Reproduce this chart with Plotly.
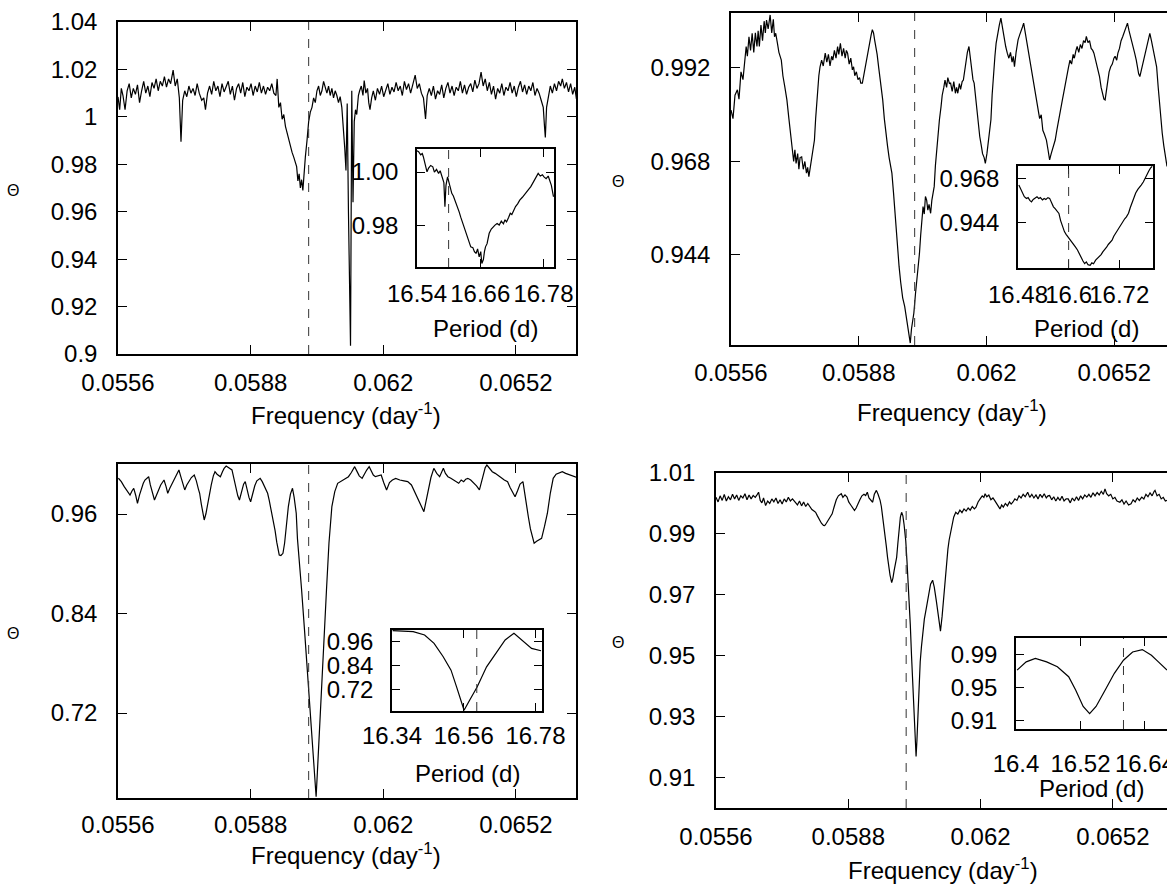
import plotly.graph_objects as go

W, H = 1167, 884
FONT = "Liberation Sans, Arial, Helvetica, sans-serif"

# ---------------- data ----------------
dash_freq = 0.0602
dash_period = 16.60

p1_freq = [0.05560,0.05564,0.05568,0.05572,0.05577,0.05582,0.05587,0.05592,0.05597,0.05602,0.05607,0.05612,0.05617,0.05622,0.05627,0.05632,0.05637,0.05642,0.05647,0.05652,0.05657,0.05662,0.05667,0.05672,0.05677,0.05682,0.05687,0.05693,0.05698,0.05703,0.05708,0.05712,0.05716,0.05721,0.05726,0.05731,0.05736,0.05741,0.05746,0.05751,0.05756,0.05762,0.05767,0.05771,0.05776,0.05781,0.05786,0.05791,0.05796,0.05801,0.05806,0.05811,0.05816,0.05821,0.05826,0.05831,0.05836,0.05841,0.05846,0.05851,0.05856,0.05861,0.05866,0.05871,0.05876,0.05881,0.05886,0.05891,0.05896,0.05901,0.05906,0.05911,0.05916,0.05921,0.05926,0.05931,0.05936,0.05941,0.05944,0.05948,0.05952,0.05956,0.05960,0.05964,0.05968,0.05972,0.05976,0.05980,0.05984,0.05988,0.05991,0.05994,0.05997,0.06000,0.06003,0.06006,0.06009,0.06012,0.06016,0.06020,0.06024,0.06028,0.06032,0.06036,0.06040,0.06044,0.06048,0.06052,0.06056,0.06060,0.06064,0.06068,0.06072,0.06076,0.06080,0.06084,0.06088,0.06092,0.06096,0.06100,0.06104,0.06107,0.06110,0.06113,0.06116,0.06118,0.06121,0.06124,0.06127,0.06130,0.06133,0.06136,0.06140,0.06143,0.06147,0.06151,0.06154,0.06158,0.06162,0.06165,0.06168,0.06172,0.06176,0.06181,0.06186,0.06191,0.06196,0.06201,0.06206,0.06211,0.06216,0.06221,0.06226,0.06231,0.06236,0.06241,0.06246,0.06251,0.06256,0.06261,0.06266,0.06271,0.06277,0.06282,0.06287,0.06292,0.06297,0.06302,0.06306,0.06311,0.06316,0.06321,0.06326,0.06331,0.06336,0.06341,0.06346,0.06351,0.06356,0.06361,0.06366,0.06371,0.06376,0.06381,0.06386,0.06391,0.06396,0.06401,0.06406,0.06411,0.06416,0.06421,0.06426,0.06431,0.06436,0.06441,0.06446,0.06451,0.06456,0.06461,0.06466,0.06471,0.06476,0.06481,0.06486,0.06491,0.06496,0.06501,0.06506,0.06511,0.06516,0.06521,0.06526,0.06531,0.06536,0.06541,0.06546,0.06551,0.06556,0.06561,0.06566,0.06571,0.06576,0.06581,0.06586,0.06589,0.06591,0.06594,0.06598,0.06603,0.06608,0.06613,0.06618,0.06623,0.06628,0.06632,0.06637,0.06642,0.06647,0.06652,0.06657,0.06662,0.06666]
p1_theta = [1.0084,1.0030,1.0120,1.0090,1.0030,1.0110,1.0140,1.0080,1.0120,1.0095,1.0135,1.0060,1.0110,1.0150,1.0100,1.0130,1.0085,1.0145,1.0120,1.0160,1.0110,1.0150,1.0130,1.0170,1.0125,1.0160,1.0140,1.0197,1.0130,1.0160,1.0080,0.9895,1.0070,1.0110,1.0085,1.0130,1.0100,1.0120,1.0090,1.0140,1.0100,1.0070,1.0080,1.0030,1.0100,1.0130,1.0095,1.0150,1.0110,1.0130,1.0085,1.0140,1.0105,1.0125,1.0150,1.0095,1.0130,1.0070,1.0120,1.0140,1.0100,1.0145,1.0085,1.0125,1.0110,1.0140,1.0090,1.0130,1.0105,1.0145,1.0100,1.0130,1.0095,1.0125,1.0110,1.0140,1.0100,1.0090,1.0160,1.0040,1.0060,0.9990,1.0010,0.9960,0.9930,0.9900,0.9880,0.9850,0.9830,0.9800,0.9790,0.9730,0.9760,0.9700,0.9735,0.9690,0.9770,0.9830,0.9900,0.9980,1.0020,1.0040,1.0080,1.0060,1.0110,1.0130,1.0090,1.0110,1.0150,1.0120,1.0100,1.0130,1.0090,1.0120,1.0080,1.0110,1.0090,1.0060,1.0085,1.0040,0.9950,0.9870,0.9774,1.0056,0.9600,0.9300,0.9035,1.0110,0.9640,0.9980,1.0030,1.0010,1.0090,1.0110,1.0130,1.0090,1.0153,1.0100,1.0120,1.0060,1.0030,1.0080,1.0110,1.0070,1.0120,1.0095,1.0130,1.0085,1.0115,1.0140,1.0095,1.0125,1.0105,1.0145,1.0110,1.0130,1.0090,1.0150,1.0115,1.0140,1.0100,1.0135,1.0176,1.0120,1.0140,1.0100,1.0080,0.9991,1.0090,1.0120,1.0090,1.0130,1.0075,1.0110,1.0095,1.0135,1.0080,1.0120,1.0145,1.0100,1.0130,1.0090,1.0125,1.0110,1.0150,1.0100,1.0135,1.0095,1.0125,1.0140,1.0105,1.0155,1.0120,1.0140,1.0189,1.0130,1.0160,1.0110,1.0145,1.0095,1.0130,1.0075,1.0120,1.0100,1.0140,1.0090,1.0125,1.0110,1.0145,1.0100,1.0130,1.0085,1.0125,1.0150,1.0105,1.0135,1.0095,1.0130,1.0110,1.0145,1.0090,1.0120,1.0100,1.0070,1.0040,0.9960,0.9913,1.0040,1.0090,1.0130,1.0100,1.0140,1.0110,1.0150,1.0130,1.0160,1.0120,1.0145,1.0105,1.0140,1.0095,1.0125,1.0076]

p2_freq = [0.05560,0.05565,0.05570,0.05576,0.05580,0.05585,0.05590,0.05594,0.05598,0.05601,0.05605,0.05609,0.05613,0.05617,0.05621,0.05625,0.05628,0.05631,0.05635,0.05639,0.05643,0.05646,0.05649,0.05653,0.05658,0.05662,0.05666,0.05669,0.05672,0.05676,0.05680,0.05686,0.05690,0.05695,0.05700,0.05705,0.05710,0.05714,0.05717,0.05720,0.05723,0.05727,0.05730,0.05733,0.05737,0.05741,0.05745,0.05749,0.05752,0.05755,0.05759,0.05763,0.05766,0.05769,0.05772,0.05776,0.05780,0.05783,0.05787,0.05791,0.05796,0.05800,0.05804,0.05808,0.05812,0.05815,0.05819,0.05823,0.05827,0.05830,0.05834,0.05838,0.05842,0.05846,0.05849,0.05852,0.05856,0.05860,0.05864,0.05867,0.05870,0.05874,0.05878,0.05882,0.05885,0.05889,0.05893,0.05897,0.05900,0.05903,0.05907,0.05911,0.05914,0.05917,0.05920,0.05923,0.05926,0.05930,0.05935,0.05940,0.05944,0.05948,0.05952,0.05956,0.05960,0.05963,0.05967,0.05971,0.05975,0.05978,0.05981,0.05985,0.05990,0.05995,0.05999,0.06003,0.06006,0.06009,0.06012,0.06015,0.06018,0.06022,0.06026,0.06029,0.06032,0.06035,0.06038,0.06041,0.06044,0.06047,0.06050,0.06053,0.06056,0.06060,0.06063,0.06066,0.06069,0.06072,0.06076,0.06079,0.06082,0.06086,0.06089,0.06093,0.06096,0.06100,0.06103,0.06107,0.06110,0.06114,0.06118,0.06122,0.06125,0.06128,0.06132,0.06135,0.06139,0.06142,0.06146,0.06149,0.06152,0.06156,0.06159,0.06163,0.06166,0.06169,0.06173,0.06176,0.06180,0.06183,0.06187,0.06190,0.06194,0.06197,0.06201,0.06204,0.06208,0.06211,0.06214,0.06217,0.06221,0.06224,0.06228,0.06232,0.06236,0.06240,0.06244,0.06248,0.06252,0.06256,0.06260,0.06264,0.06267,0.06270,0.06274,0.06277,0.06279,0.06283,0.06287,0.06290,0.06293,0.06297,0.06301,0.06305,0.06308,0.06311,0.06315,0.06319,0.06322,0.06326,0.06329,0.06333,0.06337,0.06341,0.06345,0.06350,0.06354,0.06358,0.06362,0.06366,0.06369,0.06372,0.06376,0.06380,0.06384,0.06387,0.06390,0.06394,0.06398,0.06402,0.06405,0.06409,0.06413,0.06417,0.06420,0.06424,0.06427,0.06431,0.06435,0.06439,0.06443,0.06447,0.06450,0.06454,0.06458,0.06462,0.06466,0.06469,0.06473,0.06476,0.06480,0.06483,0.06487,0.06490,0.06494,0.06497,0.06500,0.06504,0.06507,0.06511,0.06515,0.06519,0.06522,0.06526,0.06529,0.06533,0.06537,0.06541,0.06545,0.06549,0.06553,0.06557,0.06561,0.06564,0.06568,0.06571,0.06575,0.06578,0.06581,0.06584,0.06588,0.06591,0.06595,0.06598,0.06602,0.06606,0.06609,0.06613,0.06617,0.06621,0.06626,0.06630,0.06634,0.06637,0.06640,0.06644,0.06648,0.06652]
p2_theta = [0.9812,0.9790,0.9850,0.9864,0.9840,0.9910,0.9890,0.9940,0.9975,0.9950,1.0000,0.9965,1.0009,0.9960,1.0010,0.9975,1.0015,0.9975,1.0030,0.9990,1.0040,1.0010,1.0043,1.0020,1.0056,1.0010,1.0045,1.0000,1.0009,0.9985,0.9960,0.9940,0.9900,0.9870,0.9838,0.9790,0.9745,0.9718,0.9680,0.9710,0.9675,0.9700,0.9660,0.9690,0.9692,0.9660,0.9680,0.9650,0.9665,0.9641,0.9670,0.9700,0.9720,0.9735,0.9790,0.9850,0.9900,0.9923,0.9940,0.9925,0.9958,0.9935,0.9955,0.9925,0.9950,0.9940,0.9965,0.9945,0.9975,0.9955,0.9983,0.9950,0.9970,0.9945,0.9965,0.9958,0.9930,0.9945,0.9915,0.9923,0.9900,0.9910,0.9890,0.9895,0.9881,0.9881,0.9905,0.9925,0.9940,0.9960,0.9990,1.0005,1.0018,1.0010,0.9990,0.9975,0.9955,0.9920,0.9880,0.9838,0.9790,0.9745,0.9720,0.9690,0.9660,0.9650,0.9600,0.9540,0.9480,0.9440,0.9410,0.9370,0.9330,0.9308,0.9280,0.9250,0.9230,0.9214,0.9250,0.9270,0.9291,0.9340,0.9380,0.9410,0.9444,0.9490,0.9530,0.9564,0.9545,0.9590,0.9581,0.9555,0.9570,0.9547,0.9580,0.9600,0.9616,0.9670,0.9720,0.9760,0.9787,0.9820,0.9850,0.9870,0.9889,0.9870,0.9895,0.9880,0.9881,0.9860,0.9885,0.9855,0.9870,0.9855,0.9880,0.9865,0.9885,0.9889,0.9920,0.9945,0.9960,0.9975,0.9950,0.9920,0.9890,0.9881,0.9840,0.9800,0.9770,0.9744,0.9720,0.9700,0.9690,0.9675,0.9700,0.9730,0.9760,0.9787,0.9850,0.9900,0.9950,0.9983,1.0010,1.0030,1.0048,1.0020,0.9995,0.9975,0.9958,0.9945,0.9960,0.9935,0.9950,0.9923,0.9960,0.9980,0.9992,1.0005,1.0020,1.0025,1.0035,1.0010,0.9990,0.9965,0.9940,0.9923,0.9895,0.9870,0.9850,0.9830,0.9812,0.9790,0.9800,0.9760,0.9750,0.9735,0.9710,0.9684,0.9700,0.9715,0.9720,0.9735,0.9760,0.9780,0.9800,0.9820,0.9838,0.9860,0.9885,0.9900,0.9920,0.9940,0.9930,0.9955,0.9945,0.9965,0.9975,0.9960,0.9980,0.9970,0.9990,0.9985,1.0001,0.9985,0.9990,0.9970,0.9965,0.9958,0.9940,0.9925,0.9910,0.9898,0.9870,0.9855,0.9840,0.9838,0.9860,0.9890,0.9910,0.9923,0.9930,0.9945,0.9950,0.9940,0.9958,0.9970,0.9990,1.0000,1.0010,1.0020,1.0035,1.0015,1.0000,0.9985,0.9970,0.9958,0.9940,0.9920,0.9905,0.9898,0.9915,0.9935,0.9950,0.9958,0.9980,0.9995,1.0009,0.9990,0.9970,0.9950,0.9923,0.9870,0.9820,0.9780,0.9753,0.9720,0.9690,0.9667]

p3_freq = [0.05561,0.05568,0.05575,0.05582,0.05589,0.05594,0.05598,0.05603,0.05607,0.05612,0.05617,0.05621,0.05625,0.05630,0.05634,0.05638,0.05643,0.05648,0.05653,0.05658,0.05663,0.05667,0.05671,0.05676,0.05680,0.05685,0.05690,0.05695,0.05700,0.05704,0.05707,0.05711,0.05716,0.05721,0.05726,0.05731,0.05737,0.05744,0.05749,0.05754,0.05757,0.05761,0.05765,0.05768,0.05772,0.05776,0.05780,0.05785,0.05790,0.05794,0.05799,0.05803,0.05807,0.05812,0.05816,0.05821,0.05826,0.05830,0.05835,0.05840,0.05845,0.05849,0.05853,0.05858,0.05863,0.05867,0.05872,0.05876,0.05880,0.05885,0.05890,0.05895,0.05899,0.05903,0.05908,0.05913,0.05917,0.05921,0.05925,0.05930,0.05935,0.05939,0.05943,0.05946,0.05949,0.05953,0.05958,0.05962,0.05966,0.05971,0.05976,0.05981,0.05985,0.05990,0.05993,0.05997,0.06003,0.06010,0.06017,0.06024,0.06031,0.06035,0.06038,0.06041,0.06045,0.06049,0.06056,0.06063,0.06069,0.06076,0.06083,0.06090,0.06099,0.06108,0.06116,0.06123,0.06131,0.06136,0.06142,0.06149,0.06154,0.06160,0.06166,0.06171,0.06176,0.06181,0.06188,0.06195,0.06201,0.06208,0.06215,0.06222,0.06230,0.06240,0.06250,0.06259,0.06268,0.06277,0.06285,0.06292,0.06298,0.06303,0.06309,0.06315,0.06322,0.06329,0.06336,0.06341,0.06345,0.06350,0.06356,0.06363,0.06370,0.06376,0.06382,0.06388,0.06394,0.06399,0.06404,0.06411,0.06418,0.06425,0.06432,0.06437,0.06442,0.06446,0.06450,0.06456,0.06463,0.06470,0.06477,0.06484,0.06492,0.06500,0.06506,0.06512,0.06518,0.06524,0.06530,0.06537,0.06541,0.06545,0.06550,0.06555,0.06560,0.06564,0.06570,0.06576,0.06582,0.06589,0.06596,0.06603,0.06610,0.06617,0.06625,0.06632,0.06640,0.06650,0.06660,0.06667]
p3_theta = [1.0031,0.9990,0.9930,0.9880,0.9829,0.9880,0.9910,0.9820,0.9729,0.9830,0.9920,0.9970,1.0010,1.0030,1.0050,0.9950,0.9860,0.9769,0.9830,0.9900,0.9950,0.9980,1.0010,0.9930,0.9850,0.9910,0.9960,1.0010,1.0060,1.0100,1.0131,1.0060,0.9960,0.9890,0.9950,1.0000,1.0040,1.0070,1.0000,0.9900,0.9850,0.9720,0.9600,0.9528,0.9600,0.9720,0.9809,0.9950,1.0060,1.0110,1.0080,1.0060,1.0050,1.0110,1.0150,1.0179,1.0160,1.0150,1.0131,1.0020,0.9900,0.9820,0.9769,0.9880,0.9960,0.9990,0.9880,0.9800,0.9748,0.9850,0.9940,1.0000,1.0020,1.0030,0.9990,0.9940,0.9900,0.9850,0.9760,0.9640,0.9528,0.9400,0.9260,0.9170,0.9106,0.9100,0.9126,0.9250,0.9450,0.9690,0.9840,0.9910,0.9800,0.9609,0.9300,0.9000,0.8683,0.8200,0.7678,0.7150,0.6672,0.6400,0.6190,0.6480,0.6850,0.7276,0.7980,0.8683,0.9250,0.9690,0.9870,0.9970,1.0000,1.0030,1.0050,1.0100,1.0171,1.0120,1.0060,1.0030,1.0080,1.0130,1.0171,1.0110,1.0070,1.0050,1.0060,1.0070,0.9980,0.9890,0.9980,1.0010,1.0030,1.0010,1.0000,0.9990,0.9950,0.9850,0.9760,0.9680,0.9628,0.9750,0.9890,1.0040,1.0151,1.0090,1.0050,1.0110,1.0151,1.0090,1.0050,1.0030,1.0010,0.9990,0.9970,1.0010,0.9990,1.0020,1.0030,1.0010,0.9980,0.9940,0.9890,0.9990,1.0100,1.0160,1.0191,1.0150,1.0110,1.0090,1.0070,1.0040,1.0010,0.9990,0.9920,0.9860,0.9809,0.9880,0.9960,0.9990,0.9850,0.9700,0.9567,0.9420,0.9300,0.9247,0.9270,0.9290,0.9307,0.9450,0.9609,0.9850,1.0030,1.0080,1.0100,1.0110,1.0090,1.0070,1.0050,1.0040]

p4_freq = [0.05560,0.05565,0.05570,0.05575,0.05580,0.05585,0.05590,0.05595,0.05600,0.05605,0.05610,0.05615,0.05620,0.05625,0.05630,0.05635,0.05640,0.05645,0.05650,0.05655,0.05660,0.05663,0.05667,0.05671,0.05675,0.05680,0.05685,0.05690,0.05695,0.05700,0.05705,0.05710,0.05715,0.05720,0.05725,0.05730,0.05735,0.05740,0.05745,0.05752,0.05757,0.05762,0.05767,0.05772,0.05777,0.05782,0.05787,0.05792,0.05797,0.05801,0.05805,0.05810,0.05815,0.05820,0.05823,0.05827,0.05831,0.05836,0.05841,0.05846,0.05851,0.05856,0.05860,0.05863,0.05867,0.05872,0.05877,0.05881,0.05886,0.05891,0.05895,0.05899,0.05903,0.05908,0.05913,0.05918,0.05922,0.05926,0.05930,0.05935,0.05939,0.05943,0.05948,0.05952,0.05957,0.05960,0.05963,0.05966,0.05969,0.05972,0.05975,0.05978,0.05981,0.05985,0.05988,0.05991,0.05994,0.05997,0.06000,0.06003,0.06006,0.06009,0.06012,0.06015,0.06019,0.06022,0.06026,0.06030,0.06033,0.06036,0.06039,0.06042,0.06044,0.06046,0.06048,0.06051,0.06054,0.06057,0.06060,0.06064,0.06069,0.06074,0.06079,0.06084,0.06088,0.06093,0.06098,0.06103,0.06107,0.06110,0.06113,0.06117,0.06121,0.06124,0.06127,0.06131,0.06135,0.06140,0.06145,0.06150,0.06155,0.06160,0.06165,0.06170,0.06175,0.06180,0.06185,0.06189,0.06194,0.06199,0.06204,0.06208,0.06211,0.06215,0.06220,0.06225,0.06230,0.06234,0.06238,0.06243,0.06247,0.06251,0.06255,0.06260,0.06265,0.06270,0.06274,0.06278,0.06283,0.06288,0.06293,0.06298,0.06303,0.06308,0.06314,0.06319,0.06324,0.06329,0.06334,0.06339,0.06344,0.06349,0.06354,0.06359,0.06363,0.06367,0.06372,0.06377,0.06382,0.06387,0.06392,0.06397,0.06402,0.06407,0.06412,0.06417,0.06422,0.06427,0.06432,0.06437,0.06442,0.06447,0.06452,0.06457,0.06462,0.06467,0.06472,0.06477,0.06482,0.06487,0.06492,0.06497,0.06501,0.06505,0.06510,0.06515,0.06520,0.06525,0.06530,0.06537,0.06542,0.06547,0.06552,0.06558,0.06564,0.06569,0.06574,0.06579,0.06584,0.06590,0.06595,0.06600,0.06605,0.06610,0.06615,0.06620,0.06622,0.06627,0.06632,0.06637,0.06642,0.06647,0.06651]
p4_theta = [1.0020,1.0005,1.0025,1.0010,1.0030,1.0008,1.0022,1.0012,1.0030,1.0015,1.0028,1.0010,1.0025,1.0018,1.0032,1.0012,1.0028,1.0015,1.0026,1.0020,1.0030,1.0037,1.0010,1.0002,1.0018,0.9993,1.0008,1.0000,1.0015,1.0005,1.0018,1.0000,1.0012,0.9998,1.0015,1.0005,1.0020,1.0008,1.0015,1.0004,0.9995,1.0008,0.9992,1.0005,0.9990,1.0000,0.9988,0.9980,0.9975,0.9971,0.9960,0.9945,0.9935,0.9928,0.9927,0.9935,0.9945,0.9958,0.9966,0.9990,1.0012,1.0025,1.0030,1.0032,1.0020,1.0028,1.0021,1.0005,0.9995,0.9985,0.9977,0.9985,1.0000,1.0012,1.0025,1.0030,1.0026,1.0037,1.0018,1.0010,1.0004,1.0030,1.0043,1.0030,1.0010,0.9990,0.9960,0.9933,0.9900,0.9860,0.9823,0.9790,0.9765,0.9740,0.9755,0.9780,0.9800,0.9823,0.9870,0.9920,0.9955,0.9971,0.9960,0.9930,0.9878,0.9810,0.9720,0.9603,0.9500,0.9400,0.9329,0.9230,0.9169,0.9220,0.9290,0.9384,0.9480,0.9530,0.9570,0.9620,0.9658,0.9700,0.9735,0.9748,0.9725,0.9680,0.9625,0.9581,0.9630,0.9680,0.9713,0.9790,0.9850,0.9880,0.9900,0.9935,0.9955,0.9971,0.9965,0.9978,0.9970,0.9982,0.9975,0.9985,0.9978,0.9990,0.9982,0.9988,1.0005,1.0015,1.0025,1.0020,1.0032,1.0022,1.0028,1.0012,1.0018,1.0010,1.0000,0.9990,0.9982,0.9995,0.9988,1.0000,0.9992,1.0005,0.9998,1.0004,1.0015,1.0010,1.0025,1.0018,1.0030,1.0022,1.0037,1.0020,1.0030,1.0018,1.0028,1.0015,1.0030,1.0020,1.0032,1.0018,1.0025,1.0026,1.0012,1.0022,1.0008,1.0020,1.0010,1.0024,1.0008,1.0015,1.0015,1.0002,1.0018,1.0008,1.0022,1.0010,1.0025,1.0015,1.0028,1.0021,1.0030,1.0020,1.0035,1.0025,1.0036,1.0028,1.0040,1.0030,1.0048,1.0032,1.0025,1.0030,1.0015,1.0020,1.0008,1.0004,1.0012,0.9998,1.0008,0.9995,0.9999,1.0012,1.0005,1.0018,1.0010,1.0021,1.0015,1.0030,1.0022,1.0035,1.0025,1.0040,1.0043,1.0025,1.0030,1.0015,1.0020,1.0008,1.0010]

in1_period = [16.540,16.543,16.547,16.550,16.552,16.555,16.559,16.562,16.566,16.570,16.573,16.577,16.581,16.584,16.588,16.591,16.593,16.595,16.598,16.601,16.604,16.606,16.609,16.612,16.616,16.620,16.623,16.627,16.631,16.635,16.639,16.642,16.646,16.649,16.652,16.655,16.658,16.661,16.663,16.666,16.668,16.670,16.673,16.675,16.677,16.681,16.685,16.688,16.692,16.696,16.700,16.704,16.707,16.710,16.714,16.717,16.720,16.724,16.727,16.731,16.735,16.740,16.745,16.750,16.756,16.760,16.765,16.770,16.774,16.778,16.781,16.785,16.789,16.792,16.795,16.799]
in1_theta = [1.0080,1.0077,1.0065,1.0070,1.0058,1.0030,1.0001,1.0015,1.0025,1.0020,1.0000,1.0010,0.9995,1.0005,0.9976,0.9960,0.9869,0.9950,0.9982,0.9955,0.9935,0.9920,0.9910,0.9895,0.9869,0.9850,0.9830,0.9806,0.9780,0.9760,0.9740,0.9718,0.9715,0.9700,0.9693,0.9710,0.9680,0.9700,0.9655,0.9670,0.9700,0.9718,0.9730,0.9760,0.9769,0.9785,0.9795,0.9800,0.9806,0.9800,0.9815,0.9805,0.9820,0.9812,0.9830,0.9845,0.9840,0.9857,0.9870,0.9880,0.9894,0.9905,0.9920,0.9930,0.9945,0.9960,0.9975,0.9995,0.9985,0.9990,0.9982,0.9975,0.9985,0.9970,0.9950,0.9907]

in2_period = [16.482,16.487,16.491,16.495,16.500,16.504,16.508,16.512,16.516,16.520,16.525,16.529,16.533,16.538,16.542,16.546,16.551,16.555,16.559,16.564,16.568,16.572,16.577,16.581,16.586,16.590,16.594,16.599,16.603,16.608,16.612,16.616,16.621,16.625,16.630,16.634,16.638,16.642,16.646,16.651,16.655,16.659,16.664,16.668,16.672,16.677,16.681,16.685,16.690,16.694,16.698,16.703,16.707,16.711,16.716,16.720,16.725,16.729,16.733,16.737,16.742,16.746,16.751,16.755,16.759,16.764,16.768,16.772,16.777,16.781,16.786,16.790,16.794,16.798]
in2_theta = [0.9643,0.9620,0.9600,0.9580,0.9570,0.9575,0.9560,0.9552,0.9565,0.9572,0.9580,0.9570,0.9575,0.9562,0.9570,0.9565,0.9575,0.9571,0.9550,0.9525,0.9515,0.9500,0.9489,0.9450,0.9416,0.9390,0.9375,0.9361,0.9345,0.9330,0.9320,0.9307,0.9290,0.9270,0.9250,0.9230,0.9216,0.9225,0.9210,0.9207,0.9220,0.9215,0.9235,0.9244,0.9255,0.9265,0.9280,0.9289,0.9305,0.9320,0.9330,0.9343,0.9365,0.9380,0.9400,0.9416,0.9430,0.9445,0.9460,0.9470,0.9490,0.9520,0.9550,0.9580,0.9600,0.9620,0.9630,0.9643,0.9660,0.9680,0.9700,0.9720,0.9735,0.9745]

in3_period = [16.342,16.405,16.440,16.469,16.497,16.521,16.538,16.561,16.578,16.601,16.630,16.659,16.687,16.714,16.739,16.768,16.797]
in3_theta = [1.0155,1.0104,0.9938,0.9519,0.8846,0.8173,0.7330,0.6156,0.6660,0.7330,0.8340,0.9015,0.9686,1.0023,0.9686,0.9267,0.9146]

in4_period = [16.402,16.419,16.436,16.457,16.477,16.498,16.511,16.525,16.537,16.549,16.566,16.583,16.600,16.617,16.635,16.652,16.665,16.681]
in4_theta = [0.9709,0.9808,0.9849,0.9808,0.9749,0.9629,0.9470,0.9271,0.9184,0.9271,0.9470,0.9670,0.9828,0.9927,0.9956,0.9888,0.9808,0.9709]

freq_ticks = [0.0556, 0.0588, 0.062, 0.0652]
freq_ticktext = ["0.0556", "0.0588", "0.062", "0.0652"]
p1_yticks = [0.9, 0.92, 0.94, 0.96, 0.98, 1.0, 1.02, 1.04]
p1_yticktext = ["0.9", "0.92", "0.94", "0.96", "0.98", "1", "1.02", "1.04"]
p2_yticks = [0.944, 0.968, 0.992]
p3_yticks = [0.72, 0.84, 0.96]
p4_yticks = [0.91, 0.93, 0.95, 0.97, 0.99, 1.01]
in1_xticks = [16.54, 16.66, 16.78]
in1_yticks = [0.98, 1.00]
in2_xticks = [16.48, 16.6, 16.72]
in2_yticks = [0.944, 0.968]
in3_xticks = [16.34, 16.56, 16.78]
in3_yticks = [0.72, 0.84, 0.96]
in4_xticks = [16.4, 16.52, 16.64]
in4_yticks = [0.91, 0.95, 0.99]

# ---------------- helpers ----------------
def hx(a, b):
    return [a / W, min(b / W, 1.0)]

def vy(top, bottom):
    return [1 - bottom / H, 1 - top / H]

TICKFONT = dict(family=FONT, size=24, color="black")

def axis(domain, rng, tickvals, ticktext, anchor, mirror="ticks", standoff=10, ticklen=9):
    return dict(domain=domain, range=rng, tickmode="array", tickvals=tickvals,
                ticktext=ticktext, anchor=anchor, showline=True, linecolor="black",
                linewidth=1.5, ticks="inside", ticklen=ticklen, tickwidth=1.3,
                tickcolor="black", mirror=mirror, showgrid=False, zeroline=False,
                tickfont=TICKFONT, ticklabelstandoff=standoff, tickangle=0,
                automargin=False, ticklabeloverflow="allow", fixedrange=True)

fig = go.Figure()
line = dict(color="black", width=1.2)
series = [
    (p1_freq, p1_theta, "x", "y"),
    (p2_freq, p2_theta, "x2", "y2"),
    (p3_freq, p3_theta, "x3", "y3"),
    (p4_freq, p4_theta, "x4", "y4"),
    (in1_period, in1_theta, "x5", "y5"),
    (in2_period, in2_theta, "x6", "y6"),
    (in3_period, in3_theta, "x7", "y7"),
    (in4_period, in4_theta, "x8", "y8"),
]
for xs, ys, xa, ya in series:
    fig.add_trace(go.Scatter(x=xs, y=ys, mode="lines", line=line, xaxis=xa, yaxis=ya,
                             showlegend=False, hoverinfo="skip"))

fmt3 = lambda v: [f"{t:.3f}" for t in v]
fmt2 = lambda v: [f"{t:.2f}" for t in v]

layout = dict(
    width=W, height=H, autosize=False, margin=dict(l=0, r=0, t=0, b=0, pad=0),
    paper_bgcolor="white", plot_bgcolor="rgba(0,0,0,0)", showlegend=False,
    font=dict(family=FONT, color="black"),
    # main panels
    xaxis=axis(hx(118, 576), [0.0556, 0.06665], freq_ticks, freq_ticktext, "y", standoff=6),
    yaxis=axis(vy(22, 354), [0.9, 1.04], p1_yticks, p1_yticktext, "x", standoff=14),
    xaxis2=axis(hx(731, 1167), [0.0556, 0.06652], freq_ticks, freq_ticktext, "y2", standoff=5),
    yaxis2=axis(vy(13, 345), [0.9209, 1.0061], p2_yticks, fmt3(p2_yticks), "x2", mirror=False, standoff=14),
    xaxis3=axis(hx(118, 576), [0.0556, 0.06665], freq_ticks, freq_ticktext, "y3", standoff=4),
    yaxis3=axis(vy(464, 798), [0.6175, 1.0203], p3_yticks, fmt2(p3_yticks), "x3", standoff=14),
    xaxis4=axis(hx(716, 1167), [0.0556, 0.06651], freq_ticks, freq_ticktext, "y4", standoff=6),
    yaxis4=axis(vy(473, 808), [0.9, 1.01], p4_yticks, fmt2(p4_yticks), "x4", mirror=False, standoff=14),
    # insets
    xaxis5=axis(hx(417, 554), [16.54, 16.80], in1_xticks, fmt2(in1_xticks), "y5", standoff=4, ticklen=8),
    yaxis5=axis(vy(149, 267), [0.9642, 1.0087], in1_yticks, fmt2(in1_yticks), "x5", standoff=12, ticklen=8),
    xaxis6=axis(hx(1018, 1153), [16.48, 16.80], in2_xticks, ["16.48", "16.6", "16.72"], "y6", standoff=4, ticklen=8),
    yaxis6=axis(vy(166, 268), [0.9192, 0.9747], in2_yticks, fmt3(in2_yticks), "x6", standoff=12, ticklen=8),
    xaxis7=axis(hx(392, 542), [16.34, 16.80], in3_xticks, fmt2(in3_xticks), "y7", standoff=2, ticklen=8),
    yaxis7=axis(vy(630, 711), [0.612, 1.019], in3_yticks, fmt2(in3_yticks), "x7", standoff=12, ticklen=8),
    xaxis8=axis(hx(1016, 1167), [16.40, 16.681], in4_xticks, ["16.4", "16.52", "16.64"], "y8", standoff=12, ticklen=8),
    yaxis8=axis(vy(638, 729), [0.9, 1.0095], in4_yticks, fmt2(in4_yticks), "x8", mirror=False, standoff=12, ticklen=8),
)
fig.update_layout(**layout)

# dashed reference lines
dash = dict(color="#333333", width=1, dash="dash")
for xa, ya in [("x", "y"), ("x2", "y2"), ("x3", "y3"), ("x4", "y4")]:
    fig.add_shape(type="line", xref=xa, yref=f"{ya} domain", x0=dash_freq, x1=dash_freq,
                  y0=0, y1=1, line=dash)
for xa, ya in [("x5", "y5"), ("x6", "y6"), ("x7", "y7"), ("x8", "y8")]:
    fig.add_shape(type="line", xref=xa, yref=f"{ya} domain", x0=dash_period, x1=dash_period,
                  y0=0, y1=1, line=dash)

# titles as annotations (paper pixel positions)
def ann(text, x, y, size=24):
    fig.add_annotation(text=text, x=x / W, y=1 - y / H, xref="paper", yref="paper",
                       showarrow=False, xanchor="center", yanchor="middle",
                       font=dict(family=FONT, size=size, color="black"))

freq_title = "Frequency (day<sup>-1</sup>)"
for x, y in [(346, 414), (952, 411), (346, 854), (943, 869)]:
    ann(freq_title, x, y)
for x, y in [(485, 328), (1086, 328), (467, 773), (1091, 788)]:
    ann("Period (d)", x, y)
for x, y in [(13, 190), (618, 182), (13, 633), (618, 642)]:
    ann("Θ", x, y, size=16)

fig.write_html("out.html")
